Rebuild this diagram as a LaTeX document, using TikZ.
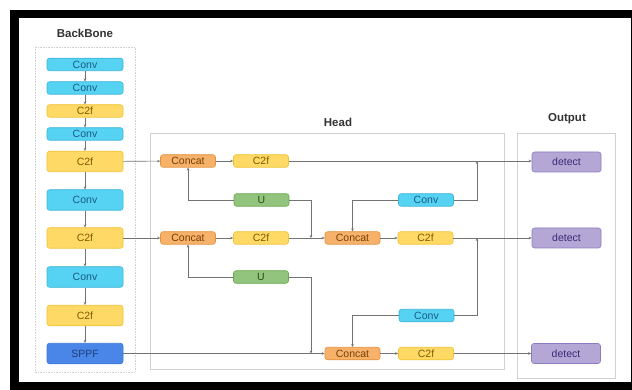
\documentclass[tikz,border=0pt]{standalone}
\usepackage{fontspec}
\setmainfont{Liberation Sans}
\usetikzlibrary{arrows.meta}

\definecolor{convfill}{HTML}{56D3F2}
\definecolor{convdraw}{HTML}{3CB4D8}
\definecolor{convtext}{HTML}{1B5A84}
\definecolor{ctwofill}{HTML}{FFD966}
\definecolor{ctwodraw}{HTML}{F1C232}
\definecolor{ctwotext}{HTML}{7F5A00}
\definecolor{catfill}{HTML}{F6B26B}
\definecolor{catdraw}{HTML}{E69138}
\definecolor{cattext}{HTML}{783F04}
\definecolor{upfill}{HTML}{93C47D}
\definecolor{updraw}{HTML}{6AA84F}
\definecolor{uptext}{HTML}{274E13}
\definecolor{detfill}{HTML}{B4A7D6}
\definecolor{detdraw}{HTML}{8E7CC3}
\definecolor{dettext}{HTML}{3B2A73}
\definecolor{sppffill}{HTML}{4A86E8}
\definecolor{sppfdraw}{HTML}{3C78D8}
\definecolor{sppftext}{HTML}{1C3F7A}

\begin{document}
\begin{tikzpicture}[
    x=1pt, y=-1pt,
    blk/.style={rectangle, rounded corners=2.5pt, inner sep=0pt, line width=0.6pt,
                font=\fontsize{10.5}{11}\selectfont},
    bbsmall/.style={blk, minimum width=76pt, minimum height=12.5pt},
    bbbig/.style={blk, minimum width=76pt, minimum height=20.5pt},
    hd/.style={blk, minimum width=55pt, minimum height=12.5pt},
    outbox/.style={blk, minimum width=69pt, minimum height=20pt},
    conv/.style={fill=convfill, draw=convdraw, text=convtext},
    ctwo/.style={fill=ctwofill, draw=ctwodraw, text=ctwotext},
    cat/.style={fill=catfill, draw=catdraw, text=cattext},
    up/.style={fill=upfill, draw=updraw, text=uptext},
    det/.style={fill=detfill, draw=detdraw, text=dettext},
    sppf/.style={fill=sppffill, draw=sppfdraw, text=sppftext},
    panel/.style={draw=black!18, line width=0.6pt},
    ttl/.style={font=\fontsize{11.5}{13}\selectfont\bfseries, text=black!80},
    link/.style={draw=black!55, line width=0.6pt},
    arr/.style={link, -{Stealth[length=3pt, width=2.6pt]}}
]
  % frame
  \useasboundingbox (0,0) rectangle (632,390);
  \fill[black] (10,10) rectangle (632,390);
  \fill[white] (19,18) rectangle (630.5,382);
  % panels
  \draw[panel, densely dotted] (35,47) rectangle (135,372);
  \draw[panel] (150,133) rectangle (504,369);
  \draw[panel] (517,133) rectangle (615,378);
  \node[ttl] (tbb) at (85,33) {BackBone};
  \node[ttl] (thd) at (338,122) {Head};
  \node[ttl] (tout) at (567,119) {Output};
  % backbone
  \node[bbsmall, conv] (bb1) at (85,64.5) {Conv};
  \node[bbsmall, conv] (bb2) at (85,88) {Conv};
  \node[bbsmall, ctwo] (bb3) at (85,111) {C2f};
  \node[bbsmall, conv] (bb4) at (85,134) {Conv};
  \node[bbbig, ctwo] (bb5) at (85,161.5) {C2f};
  \node[bbbig, conv] (bb6) at (85,200) {Conv};
  \node[bbbig, ctwo] (bb7) at (85,238) {C2f};
  \node[bbbig, conv] (bb8) at (85,277) {Conv};
  \node[bbbig, ctwo] (bb9) at (85,315.5) {C2f};
  \node[bbbig, sppf] (bb10) at (85,353.5) {SPPF};
  \foreach \a/\b in {bb1/bb2, bb2/bb3, bb3/bb4, bb4/bb5, bb5/bb6, bb6/bb7, bb7/bb8, bb8/bb9, bb9/bb10}
    \draw[arr] (\a) -- (\b);
  % head
  \node[hd, cat] (cat1) at (188,161) {Concat};
  \node[hd, ctwo] (hc1) at (261,161) {C2f};
  \node[hd, up] (up1) at (261.5,200) {U};
  \node[hd, cat] (cat2) at (188,238) {Concat};
  \node[hd, ctwo] (hc2) at (261,238) {C2f};
  \node[hd, cat] (cat3) at (352.5,238) {Concat};
  \node[hd, ctwo] (hc3) at (425.5,238) {C2f};
  \node[hd, conv] (cv1) at (426,200) {Conv};
  \node[hd, up] (up2) at (261,277) {U};
  \node[hd, conv] (cv2) at (426.5,315.5) {Conv};
  \node[hd, cat] (cat4) at (352.5,353.5) {Concat};
  \node[hd, ctwo] (hc4) at (426,353.5) {C2f};
  % output
  \node[outbox, det] (det1) at (566.5,162) {detect};
  \node[outbox, det] (det2) at (566.5,238) {detect};
  \node[outbox, det] (det3) at (566,353.5) {detect};
  % junctions
  \coordinate (j1) at (477,161);
  \coordinate (j2) at (311,238);
  \coordinate (j3) at (311,353.5);
  \coordinate (j4) at (477,238);
  % links
  \draw[arr] (bb5) -- (cat1);
  \draw[arr] (cat1) -- (hc1);
  \draw[arr] (hc1) -- (det1.west |- hc1);
  \draw[arr] (up1) -| (cat1);
  \draw[arr] (up1) -| (j2);
  \draw[arr] (bb7) -- (cat2);
  \draw[arr] (cat2) -- (hc2);
  \draw[arr] (hc2) -- (cat3);
  \draw[arr] (up2) -| (cat2);
  \draw[arr] (up2) -| (j3);
  \draw[arr] (cat3) -- (hc3);
  \draw[arr] (hc3) -- (det2);
  \draw[arr] (cv1) -| (j1);
  \draw[arr] (cv1) -| (cat3);
  \draw[arr] (cv2) -| (j4);
  \draw[arr] (cv2) -| (cat4);
  \draw[arr] (bb10) -- (cat4);
  \draw[arr] (cat4) -- (hc4);
  \draw[arr] (hc4) -- (det3);
\end{tikzpicture}
\end{document}
